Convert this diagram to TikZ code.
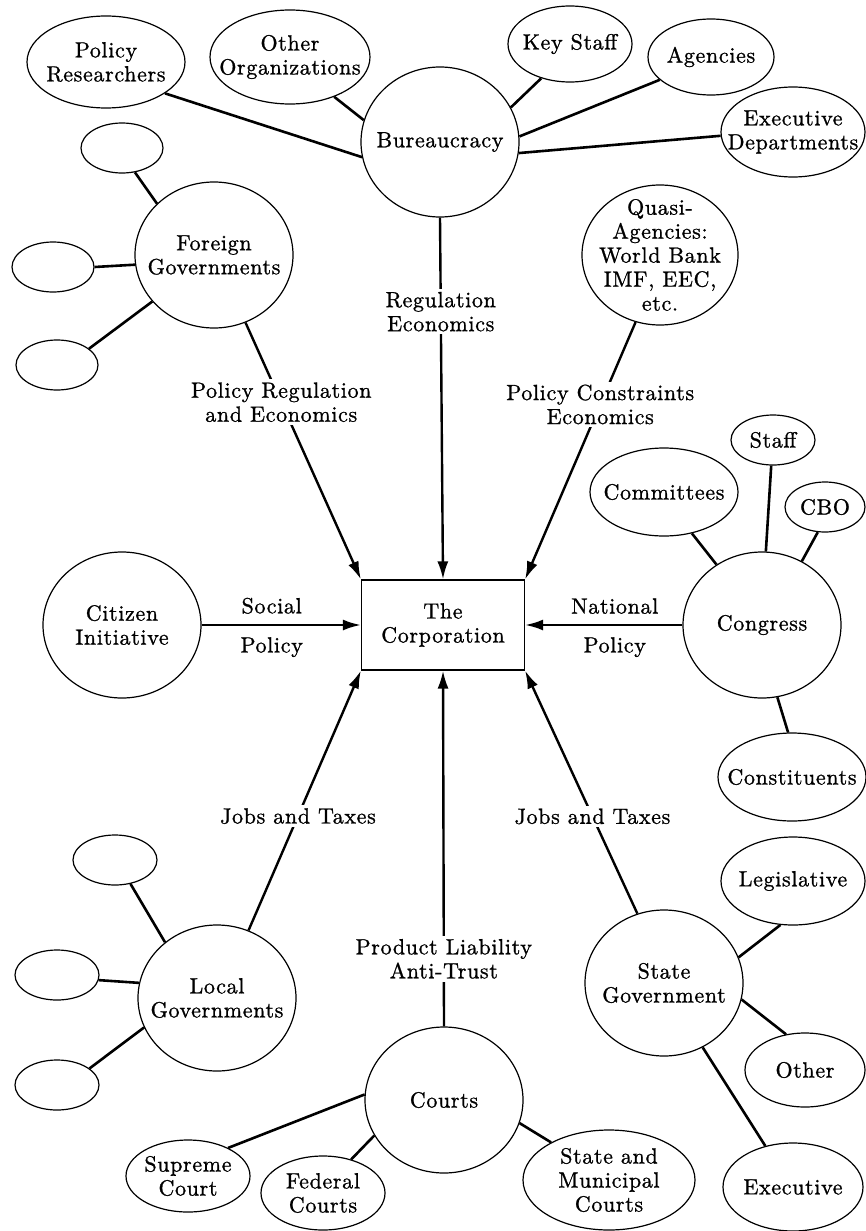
\documentclass[tikz,border=0pt]{standalone}
\usepackage{fontspec}
\setmainfont{lmroman10-regular.otf}[LetterSpace=3,FakeBold=1]
\usetikzlibrary{shapes.geometric,arrows.meta}

\tikzset{
  txt/.style={font=\fontsize{22}{24}\selectfont, align=center, inner sep=0pt},
  hub/.style={ellipse, draw, line width=1.2pt, minimum width=158pt, minimum height=146pt,
    inner sep=0pt, label={[txt]center:{#1}}},
  leaf/.style n args={3}{ellipse, draw, line width=1.2pt, minimum width=#1, minimum height=#2,
    inner sep=0pt, label={[txt]center:{#3}}},
  link/.style={line width=2.6pt},
  arr/.style={line width=2.4pt, -{Latex[length=18pt,width=11pt]}},
  lbl/.style={txt, fill=white, inner sep=3pt},
}

\begin{document}
\begin{tikzpicture}[x=1pt,y=-1pt]
  \path[use as bounding box, fill=white] (0,0) rectangle (866,1231);

  % centre
  \node[draw, line width=1.2pt, minimum width=163pt, minimum height=90pt, txt] (corp) at (443,625) {The\\Corporation};

  % bureaucracy
  \node[hub=Bureaucracy, minimum height=150pt] (bur) at (440,142) {};
  \node[leaf={158}{92}{Policy\\Researchers}] (pr) at (106,62) {};
  \node[leaf={160}{94}{Other\\Organizations}] (oo) at (290,57) {};
  \node[leaf={124}{76}{Key Staff}] (ks) at (570,44) {};
  \node[leaf={126}{76}{Agencies}] (ag) at (711,57) {};
  \node[leaf={144}{90}{Executive\\Departments}] (ed) at (793,132) {};
  \draw[link] (bur.191) -- (pr.332);
  \draw[link] (bur.164) -- (oo.318);
  \draw[link] (bur.26) -- (ks.230);
  \draw[link] (bur.4) -- (ag.204);
  \draw[link] (bur.352) -- (ed.183);

  % foreign governments
  \node[hub={Foreign\\Governments}] (fg) at (214,255) {};
  \node[leaf={82}{50}{}] (fg1) at (122,148) {};
  \node[leaf={82}{50}{}] (fg2) at (53,267) {};
  \node[leaf={82}{50}{}] (fg3) at (57,365) {};
  \draw[link] (fg.138) -- (fg1.298);
  \draw[link] (fg.187) -- (fg2.0);
  \draw[link] (fg.217) -- (fg3.27);

  \node[hub={Quasi-\\Agencies:\\World Bank\\IMF, EEC,\\etc.}, minimum width=156pt, minimum height=140pt] (qa) at (660,255) {};
  \node[hub={Citizen\\Initiative}] (cit) at (122,625) {};

  % congress
  \node[hub=Congress] (cong) at (762,625) {};
  \node[leaf={148}{88}{Committees}] (com) at (664,492) {};
  \node[leaf={84}{50}{Staff}] (staff) at (773,440) {};
  \node[leaf={80}{50}{CBO}] (cbo) at (825,507) {};
  \node[leaf={148}{88}{Constituents}] (con) at (792,777) {};
  \draw[link] (cong.127) -- (com.304);
  \draw[link] (cong.87) -- (staff.266);
  \draw[link] (cong.58) -- (cbo.254);
  \draw[link] (cong.282) -- (con.95);

  % local governments
  \node[hub={Local\\Governments}] (lg) at (217,998) {};
  \node[leaf={84}{50}{}] (lg1) at (115,860) {};
  \node[leaf={84}{50}{}] (lg2) at (57,975) {};
  \node[leaf={84}{50}{}] (lg3) at (57,1085) {};
  \draw[link] (lg.133) -- (lg1.303);
  \draw[link] (lg.169) -- (lg2.353);
  \draw[link] (lg.202) -- (lg3.27);

  % courts
  \node[hub=Courts] (crt) at (444,1100) {};
  \node[leaf={124}{72}{Supreme\\Court}] (sup) at (188,1176) {};
  \node[leaf={124}{74}{Federal\\Courts}] (fed) at (323,1193) {};
  \node[leaf={172}{100}{State and\\Municipal\\Courts}] (smc) at (609,1180) {};
  \draw[link] (crt.176) -- (sup.35);
  \draw[link] (crt.207) -- (fed.50);
  \draw[link] (crt.343) -- (smc.147);

  % state government
  \node[hub={State\\Government}] (sg) at (664,983) {};
  \node[leaf={144}{88}{Legislative}] (leg) at (793,881) {};
  \node[leaf={120}{74}{Other}] (oth) at (805,1070) {};
  \node[leaf={140}{88}{Executive}] (exe) at (793,1187) {};
  \draw[link] (sg.19) -- (leg.254);
  \draw[link] (sg.348) -- (oth.118);
  \draw[link] (sg.301) -- (exe.124);

  % influences on the corporation
  \draw[arr] (bur.south) -- node[lbl,pos=.26]{Regulation\\Economics} (corp.north);
  \draw[arr] (fg.295) -- node[lbl,pos=.31]{Policy Regulation\\and Economics} (corp.north west);
  \draw[arr] (qa.250) -- node[lbl,pos=.32]{Policy Constraints\\Economics} (corp.north east);
  \draw[arr] (cit.east) -- node[txt,above=10pt,pos=.44]{Social} node[txt,below=11pt,pos=.44]{Policy} (corp.west);
  \draw[arr] (cong.west) -- node[txt,above=10pt,pos=.43]{National} node[txt,below=11pt,pos=.43]{Policy} (corp.east);
  \draw[arr] (lg.65) -- node[lbl,pos=.44]{Jobs and Taxes} (corp.south west);
  \draw[arr] (sg.111) -- node[lbl,pos=.40]{Jobs and Taxes} (corp.south east);
  \draw[arr] (crt.north) -- node[lbl,pos=.19]{Product Liability\\Anti-Trust} (corp.south);
\end{tikzpicture}
\end{document}
